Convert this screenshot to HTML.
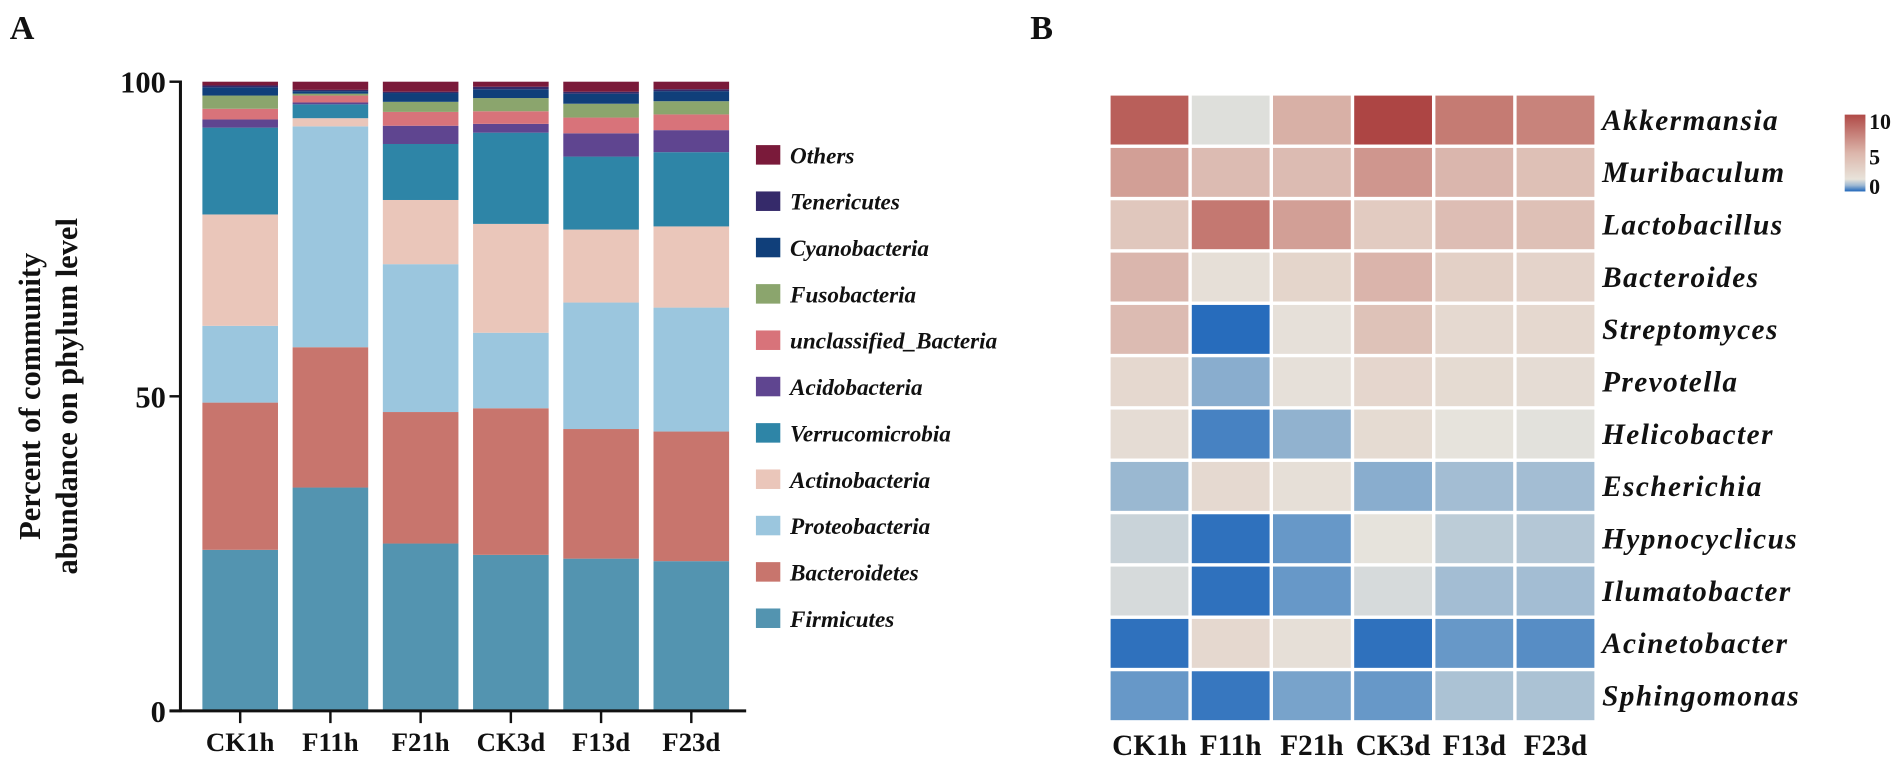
<!DOCTYPE html>
<html><head><meta charset="utf-8"><style>
html,body{margin:0;padding:0;background:#fff;}
svg{display:block;}
text{font-family:"Liberation Serif",serif;font-weight:bold;fill:#111;}
</style></head><body>
<svg id="fig" width="1902" height="767" viewBox="0 0 1560 629" preserveAspectRatio="none" xmlns="http://www.w3.org/2000/svg">
<text x="8" y="32" font-size="28">A</text>
<text x="845" y="32" font-size="28">B</text>
<g id="chartA"></g>
<g id="legendA"></g>
<g id="heat"></g>
</svg>
<script>
const samples = ["CK1h","F11h","F21h","CK3d","F13d","F23d"];
const phyla = ["Firmicutes","Bacteroidetes","Proteobacteria","Actinobacteria","Verrucomicrobia","Acidobacteria","unclassified_Bacteria","Fusobacteria","Cyanobacteria","Tenericutes","Others"];
const phylaColors = ["#5394b0","#c8756d","#9bc6de","#eac6ba","#2e85a7","#5f4590","#d8737a","#8ba56d","#103f7a","#352a6a","#7a1a3a"];
const firmicutes     = [25.6,35.5,26.6,24.8,24.2,23.8];
const bacteroidetes  = [23.4,22.3,20.9,23.3,20.6,20.6];
const proteobacteria = [12.2,35.1,23.5,12.0,20.1,19.7];
const actinobacteria = [17.7,1.3,10.2,17.3,11.6,12.9];
const verrucomicrobia= [13.8,2.2,8.9,14.5,11.6,11.8];
const acidobacteria  = [1.3,0.3,2.9,1.4,3.7,3.5];
const unclassified   = [1.7,1.1,2.2,2.0,2.5,2.5];
const fusobacteria   = [2.1,0.3,1.6,2.1,2.2,2.1];
const cyanobacteria  = [1.3,0.4,1.4,1.4,1.6,1.6];
const tenericutes    = [0.3,0.2,0.2,0.4,0.3,0.3];
const others         = [0.6,1.3,1.6,0.8,1.6,1.2];
const yTicks = [0,50,100];

const genera = ["Akkermansia","Muribaculum","Lactobacillus","Bacteroides","Streptomyces","Prevotella","Helicobacter","Escherichia","Hypnocyclicus","Ilumatobacter","Acinetobacter","Sphingomonas"];
const akkermansia   = [8.7,2.6,5.5,10,7.5,7.2];
const muribaculum   = [6.2,5.0,5.0,6.5,5.2,4.8];
const lactobacillus = [4.5,7.6,6.2,4.3,4.9,4.8];
const bacteroides   = [5.2,3.1,3.8,5.3,4.1,3.9];
const streptomyces  = [5.0,0.1,3.0,4.7,3.5,3.6];
const prevotella    = [3.6,1.3,3.0,3.7,3.4,3.3];
const helicobacter  = [3.3,0.5,1.4,3.4,2.8,2.7];
const escherichia   = [1.5,3.5,3.1,1.3,1.6,1.6];
const hypnocyclicus = [2.1,0.2,0.9,2.8,1.9,1.8];
const ilumatobacter = [2.4,0.2,0.9,2.4,1.6,1.6];
const acinetobacter = [0.2,3.6,3.1,0.2,0.9,0.7];
const sphingomonas  = [0.9,0.3,1.1,0.9,1.7,1.7];
const scaleTicks = [0,5,10];

const NS="http://www.w3.org/2000/svg";
function mk(tag,attrs,parent){const e=document.createElementNS(NS,tag);for(const k in attrs)e.setAttribute(k,attrs[k]);parent.appendChild(e);return e;}

// ---- Panel A
const series=[firmicutes,bacteroidetes,proteobacteria,actinobacteria,verrucomicrobia,acidobacteria,unclassified,fusobacteria,cyanobacteria,tenericutes,others];
const A=document.getElementById('chartA');
const y0=583,y1=67,axX=148;
const yS=v=>y0-(y0-y1)*v/100;
const xC=i=>197+i*74;
const bw=62;
for(let i=0;i<samples.length;i++){
  let cum=0;
  for(let s=0;s<series.length;s++){
    const v=series[s][i];
    const r=mk('rect',{x:xC(i)-bw/2,y:yS(cum+v),width:bw,height:yS(cum)-yS(cum+v),fill:phylaColors[s]},A);
    
    
    cum+=v;
  }
  const t=mk('line',{x1:xC(i),x2:xC(i),y1:y0,y2:y0+10,stroke:'#111','stroke-width':2},A);
  
  
  const l=mk('text',{x:xC(i),y:y0+33,'text-anchor':'middle','font-size':22},A);
  l.textContent=samples[i];
  
  
}
const ya=mk('line',{x1:axX,x2:axX,y1:y1-1,y2:y0+1,stroke:'#111','stroke-width':2.5},A);


const xa=mk('line',{x1:139,x2:612,y1:y0,y2:y0,stroke:'#111','stroke-width':2.5},A);


yTicks.forEach(v=>{
  const t=mk('line',{x1:139,x2:axX,y1:yS(v),y2:yS(v),stroke:'#111','stroke-width':2},A);
  
  
  const l=mk('text',{x:136,y:yS(v)+9,'text-anchor':'end','font-size':25},A);
  l.textContent=v;
  
  
});
const yt=mk('text',{transform:'translate(33,325) rotate(-90)','text-anchor':'middle','font-size':25},A);
yt.textContent='Percent of community';


const yt2=mk('text',{transform:'translate(63,325) rotate(-90)','text-anchor':'middle','font-size':25},A);
yt2.textContent='abundance on phylum level';



const L=document.getElementById('legendA');
for(let s=0;s<phyla.length;s++){
  const cy=507-s*38;
  const r=mk('rect',{x:620,y:cy-8,width:20,height:16,fill:phylaColors[s]},L);
  
  
  const t=mk('text',{x:648,y:cy+7,'font-size':19,'font-style':'italic'},L);
  t.textContent=phyla[s];
  
  
}

// ---- Panel B
const rows=[akkermansia,muribaculum,lactobacillus,bacteroides,streptomyces,prevotella,helicobacter,escherichia,hypnocyclicus,ilumatobacter,acinetobacter,sphingomonas];
const stops=[[0,[31,102,186]],[1,[111,158,201]],[2,[197,209,217]],[2.8,[230,227,220]],[4,[228,210,200]],[6,[212,164,155]],[8,[192,109,102]],[10,[173,69,68]]];
function col(v){
  v=Math.max(0,Math.min(10,v));
  for(let i=0;i<stops.length-1;i++){
    const [a,ca]=stops[i],[b,cb]=stops[i+1];
    if(v<=b){const t=(v-a)/(b-a);return 'rgb('+ca.map((c,k)=>Math.round(c+(cb[k]-c)*t)).join(',')+')';}
  }
  return 'rgb(173,69,68)';
}
const H=document.getElementById('heat');
const hx=909.5,hy=77,cw=66.6,ch=(592-77)/12,g=1.4;
for(let r=0;r<genera.length;r++){
  for(let c=0;c<samples.length;c++){
    const e=mk('rect',{x:hx+c*cw+g,y:hy+r*ch+g,width:cw-2*g,height:ch-2*g,fill:col(rows[r][c])},H);
    
    
  }
  const t=mk('text',{x:1314,y:hy+r*ch+ch/2+8,'font-size':24,'font-style':'italic','letter-spacing':1.2},H);
  t.textContent=genera[r];
  
  
}
for(let c=0;c<samples.length;c++){
  const t=mk('text',{x:hx+c*cw+cw/2,y:619,'text-anchor':'middle','font-size':24},H);
  t.textContent=samples[c];
  
  
}
// color scale
const defs=mk('defs',{},H);
const lg=mk('linearGradient',{id:'cg',x1:0,y1:1,x2:0,y2:0},defs);
[[0,'#1f66ba'],[0.08,'#9fb9d3'],[0.16,'#e8e3da'],[0.5,'#dcb6ab'],[1,'#b04a47']].forEach(([o,c])=>mk('stop',{offset:o,'stop-color':c},lg));
const cbTop=94,cbBot=157;
const cb=mk('rect',{x:1513,y:cbTop,width:17,height:cbBot-cbTop,fill:'url(#cg)'},H);


const scaleY=[153,129,100];
scaleTicks.forEach((v,i)=>{
  const t=mk('text',{x:1533,y:scaleY[i]+6,'font-size':18},H);
  t.textContent=v;
  
  
});
</script>
</body></html>
